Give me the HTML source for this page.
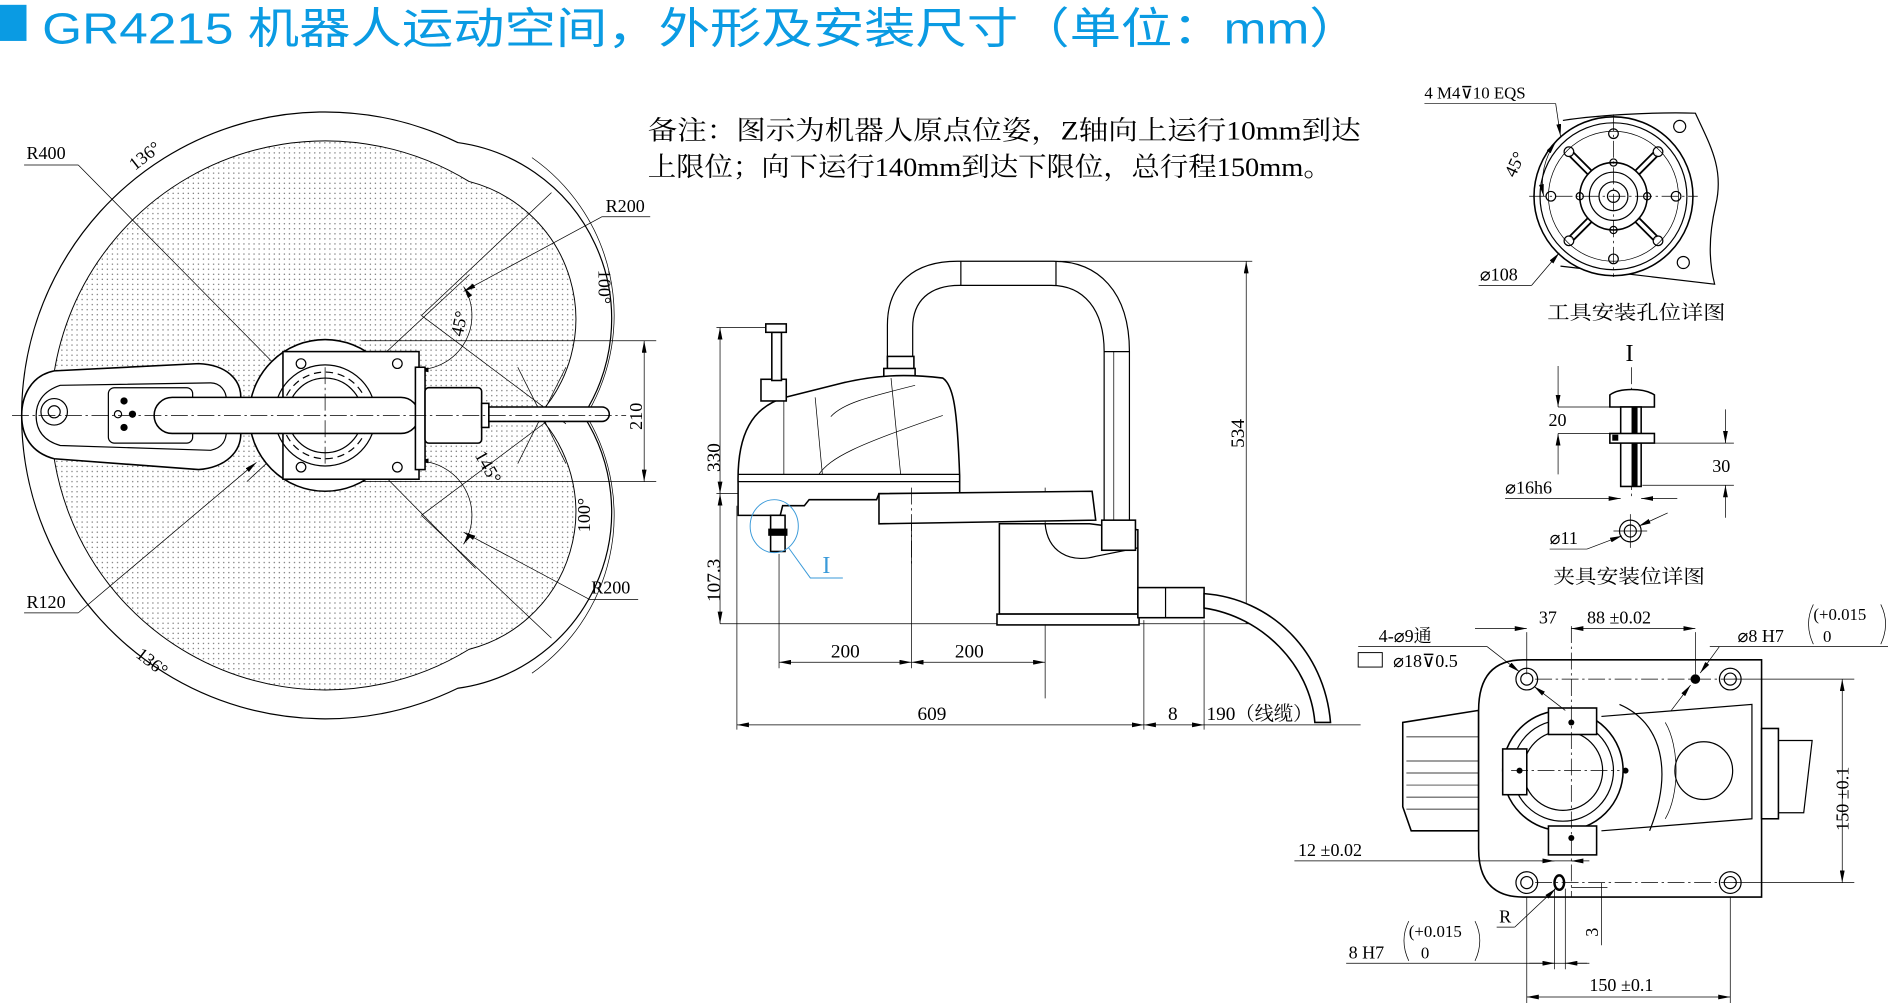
<!DOCTYPE html>
<html><head><meta charset="utf-8"><style>
html,body{margin:0;padding:0;background:#fff;}
svg{display:block;}
text{font-family:"Liberation Serif","Noto Serif CJK SC",serif;fill:#000;}
.t{font-family:"Liberation Sans","Noto Sans CJK SC",sans-serif;fill:#0a9be3;}
.s{stroke:#000;fill:none;stroke-width:1;}
.th{stroke:#000;fill:none;stroke-width:0.6;}
.bk{stroke:#000;fill:#fff;stroke-width:1.3;}
.cl{stroke:#000;fill:none;stroke-width:0.6;stroke-dasharray:14 3 2 3;}
</style></head><body>
<svg width="1888" height="1003" viewBox="0 0 1568 833" xmlns="http://www.w3.org/2000/svg">
<defs>
<marker id="a" viewBox="0 0 10 4" refX="10" refY="2" markerWidth="10" markerHeight="4" markerUnits="userSpaceOnUse" orient="auto-start-reverse"><path d="M0,0 L10,2 L0,4 z" fill="#000"/></marker>
<pattern id="dots" width="4.2" height="4.2" patternUnits="userSpaceOnUse"><circle cx="1" cy="1" r="0.6" fill="#777"/></pattern>
</defs>
<rect width="1568" height="833" fill="#fff"/>
<!-- Title -->
<rect x="0" y="4" width="22" height="30" fill="#0a9be3"/>
<text class="t" x="35" y="36" font-size="36" textLength="1095" lengthAdjust="spacingAndGlyphs">GR4215 机器人运动空间，外形及安装尺寸（单位：mm）</text>
<!-- note -->
<text x="538" y="116" font-size="22" textLength="592" lengthAdjust="spacingAndGlyphs">备注：图示为机器人原点位姿，Z轴向上运行10mm到达</text>
<text x="538" y="146" font-size="22" textLength="568" lengthAdjust="spacingAndGlyphs">上限位；向下运行140mm到达下限位，总行程150mm。</text>

<!-- ===== LEFT: workspace ===== -->
<path d="M380.2,118.4 A252 252 0 1 0 380.2,571.6 A148 148 0 0 0 484.5,345 A148 148 0 0 0 380.2,118.4 Z" class="s" fill="#fff"/>
<path d="M389.5,150.7 A228 228 0 1 0 389.5,539.3 A118 118 0 0 0 447,345 A118 118 0 0 0 389.5,150.7 Z" fill="url(#dots)" stroke="#000" stroke-width="0.8"/>
<!-- outer dimension arcs 100° -->
<path d="M441.8,130.9 A160 160 0 0 1 488.6,342" class="th"/>
<path d="M488.6,348 A160 160 0 0 1 441.8,559.1" class="th"/>
<!-- construction lines -->
<line x1="20" y1="137" x2="65" y2="137" class="th"/>
<line x1="65" y1="137" x2="395" y2="472" class="th"/>
<line x1="20" y1="509" x2="65" y2="509" class="th"/>
<line x1="65" y1="509" x2="213" y2="384" class="th" marker-end="url(#a)"/>
<line x1="205" y1="400" x2="390" y2="228" class="th"/>
<line x1="350" y1="262" x2="458" y2="160" class="th"/>
<line x1="350" y1="262" x2="470" y2="352" class="th"/>
<line x1="350" y1="428" x2="458" y2="530" class="th"/>
<line x1="350" y1="428" x2="470" y2="338" class="th"/>
<line x1="500" y1="180" x2="540" y2="180" class="th"/>
<line x1="500" y1="180" x2="385" y2="242" class="th" marker-end="url(#a)"/>
<line x1="490" y1="498" x2="530" y2="498" class="th"/>
<line x1="490" y1="498" x2="385" y2="442" class="th" marker-end="url(#a)"/>
<path d="M385,238 A45 45 0 0 1 346,307" class="th" marker-start="url(#a)" marker-end="url(#a)"/>
<path d="M346,383 A45 45 0 0 1 385,452" class="th" marker-start="url(#a)" marker-end="url(#a)"/>
<line x1="430" y1="305" x2="470" y2="385" class="th"/>
<line x1="470" y1="305" x2="430" y2="385" class="th"/>
<!-- 210 dim -->
<line x1="300" y1="283" x2="545" y2="283" class="th"/>
<line x1="300" y1="400" x2="545" y2="400" class="th"/>
<line x1="535" y1="283" x2="535" y2="400" class="th" marker-start="url(#a)" marker-end="url(#a)"/>
<!-- arm top view -->
<circle cx="270" cy="345" r="63" class="bk"/>
<rect x="235" y="292" width="113" height="106" class="bk"/>
<circle cx="250" cy="302" r="4" class="s"/><circle cx="330" cy="302" r="4" class="s"/>
<circle cx="250" cy="388" r="4" class="s"/><circle cx="330" cy="388" r="4" class="s"/>
<circle cx="270" cy="345" r="42" class="s"/>
<circle cx="270" cy="345" r="36" class="s" stroke-dasharray="6 4" stroke-width="2"/>
<circle cx="270" cy="345" r="31" class="s"/>
<path d="M45,308 C25,312 18,330 18,345 C18,362 26,376 45,381 L165,390 C188,388 200,375 200,360 L200,330 C200,315 188,303 165,302 Z" class="bk"/>
<path d="M50,320 C35,325 30,335 30,345 C30,357 36,366 50,370 L175,374 C185,372 188,365 188,358 L188,332 C188,325 183,318 175,318 Z" class="s"/>
<rect x="90" y="322" width="70" height="46" rx="5" class="s"/>
<circle cx="103" cy="333" r="3" fill="#000"/><circle cx="103" cy="355" r="3" fill="#000"/><circle cx="110" cy="344" r="3" fill="#000"/><circle cx="98" cy="344" r="3" class="s"/>
<circle cx="45" cy="342" r="11" class="s" stroke-width="2"/><circle cx="45" cy="342" r="5" class="s"/>
<rect x="128" y="330" width="220" height="30" rx="15" class="bk"/>
<rect x="345" y="305" width="8" height="85" class="bk"/>
<rect x="353" y="322" width="47" height="46" rx="3" class="bk"/>
<rect x="400" y="335" width="6" height="20" class="bk"/>
<path d="M406,338 L500,338 A6 6 0 0 1 500,350 L406,350 Z" class="bk"/>
<line x1="10" y1="345" x2="520" y2="345" class="cl"/>
<line x1="270" y1="305" x2="270" y2="385" class="cl"/>
<!-- labels left -->
<text x="22" y="132" font-size="15">R400</text>
<text x="22" y="505" font-size="15">R120</text>
<text x="503" y="176" font-size="15">R200</text>
<text x="491" y="493" font-size="15">R200</text>
<text font-size="15" transform="translate(112,142) rotate(-38)">136°</text>
<text font-size="15" transform="translate(112,545) rotate(38)">136°</text>
<text font-size="15" transform="translate(497,224) rotate(90)">100°</text>
<text font-size="15" transform="translate(490,442) rotate(-90)">100°</text>
<text font-size="15" transform="translate(384,280) rotate(-78)">45°</text>
<text font-size="15" transform="translate(394,378) rotate(60)">145°</text>
<text font-size="15" transform="translate(533,357) rotate(-90)">210</text>

<!-- ===== SIDE VIEW ===== -->
<!-- dims -->
<line x1="595" y1="272" x2="650" y2="272" class="th"/>
<line x1="595" y1="410" x2="645" y2="410" class="th"/>
<line x1="598" y1="272" x2="598" y2="410" class="th" marker-start="url(#a)" marker-end="url(#a)"/>
<line x1="598" y1="410" x2="598" y2="518" class="th" marker-start="url(#a)" marker-end="url(#a)"/>
<line x1="598" y1="518" x2="1040" y2="518" class="th"/>
<line x1="880" y1="217" x2="1040" y2="217" class="th"/>
<line x1="1035" y1="217" x2="1035" y2="518" class="th" marker-start="url(#a)" marker-end="url(#a)"/>
<text font-size="16" transform="translate(598,392) rotate(-90)">330</text>
<text font-size="16" transform="translate(598,500) rotate(-90)">107.3</text>
<text font-size="16" transform="translate(1033,372) rotate(-90)">534</text>
<line x1="612" y1="420" x2="612" y2="606" class="th"/>
<line x1="647" y1="460" x2="647" y2="555" class="th"/>
<line x1="757" y1="410" x2="757" y2="555" class="th"/>
<line x1="868" y1="405" x2="868" y2="580" class="th"/>
<line x1="950" y1="515" x2="950" y2="606" class="th"/>
<line x1="1000" y1="515" x2="1000" y2="606" class="th"/>
<line x1="647" y1="550" x2="757" y2="550" class="th" marker-start="url(#a)" marker-end="url(#a)"/>
<line x1="757" y1="550" x2="868" y2="550" class="th" marker-start="url(#a)" marker-end="url(#a)"/>
<line x1="612" y1="602" x2="950" y2="602" class="th" marker-start="url(#a)" marker-end="url(#a)"/>
<line x1="950" y1="602" x2="1000" y2="602" class="th" marker-start="url(#a)" marker-end="url(#a)"/>
<line x1="1000" y1="602" x2="1130" y2="602" class="th"/>
<text x="690" y="546" font-size="16">200</text>
<text x="793" y="546" font-size="16">200</text>
<text x="762" y="598" font-size="16">609</text>
<text x="970" y="598" font-size="16">8</text>
<text x="1002" y="598" font-size="16">190（线缆）</text>
<!-- cable loop -->
<path d="M737,300 L737,270 C737,235 760,217 795,217 L875,217 C912,217 938,242 938,292 L938,435" class="s" stroke-width="1.3"/>
<path d="M758,300 L758,272 C758,250 772,237 797,237 L873,237 C900,237 917,257 917,292 L917,435" class="s" stroke-width="1.3"/>
<line x1="798" y1="217" x2="798" y2="237" class="s"/><line x1="877" y1="217" x2="877" y2="237" class="s"/>
<line x1="917" y1="292" x2="938" y2="292" class="s"/><line x1="925" y1="292" x2="925" y2="432" class="th"/>
<rect x="737" y="296" width="22" height="14" class="bk"/>
<rect x="734" y="306" width="26" height="16" class="bk"/>
<!-- upper arm -->
<path d="M613,402 C612,360 625,338 652,330 L700,318 C725,312 750,310 783,314 C792,320 795,340 797,395 L797,410 L730,410 L728,415 L672,415 L668,420 L650,420 L648,428 L613,428 Z" class="bk"/>
<line x1="613" y1="394" x2="797" y2="394" class="s"/><line x1="613" y1="400" x2="797" y2="400" class="s"/>
<path d="M651,330 L651,394 M677,330 L683,394 M740,314 L748,394 M690,346 C700,335 720,330 760,320" class="th"/>
<path d="M680,394 C690,380 710,370 783,345" class="th"/>
<rect x="632" y="315" width="21" height="18" class="bk"/>
<rect x="641" y="276" width="8" height="40" class="bk"/>
<rect x="636" y="269" width="17" height="7" class="bk"/>
<rect x="640" y="428" width="12" height="30" class="bk"/>
<rect x="638" y="439" width="16" height="6" fill="#000"/>
<!-- lower arm & column -->
<path d="M730,410 L907,408 L910,432 L730,435 Z" class="bk"/>
<path d="M830,435 L905,435 L945,440 L945,510 L830,510 Z" class="bk"/>
<path d="M868,435 C870,458 888,468 910,462 L945,455" class="s"/>
<rect x="915" y="432" width="28" height="25" class="bk"/>
<rect x="828" y="510" width="118" height="9" class="bk"/>
<rect x="945" y="488" width="55" height="25" class="bk"/>
<line x1="968" y1="488" x2="968" y2="513" class="s"/>
<path d="M1000,493 C1055,497 1100,540 1105,600 L1092,600 C1088,552 1048,512 1000,505 Z" class="bk"/>
<line x1="757" y1="405" x2="757" y2="470" class="cl"/>
<!-- detail I -->
<ellipse cx="643" cy="437" rx="20" ry="22" fill="none" stroke="#3a9ad9" stroke-width="0.8"/>
<path d="M655,455 L673,480 L700,480" fill="none" stroke="#3a9ad9" stroke-width="0.8"/>
<text x="683" y="476" font-size="20" fill="#3a9ad9" style="fill:#3a9ad9">I</text>

<!-- ===== TOOL FLANGE DETAIL ===== -->
<path d="M1298,100 C1330,95 1380,93 1408,94 C1420,120 1432,140 1425,170 C1418,200 1420,220 1424,236 L1296,221" class="s"/>
<circle cx="1340" cy="163" r="66" class="bk"/>
<circle cx="1340" cy="163" r="61" class="s"/>
<circle cx="1340" cy="163" r="54" class="th"/>
<path d="M1305,128 L1375,198 M1375,128 L1305,198" stroke="#000" stroke-width="6"/>
<path d="M1305,128 L1375,198 M1375,128 L1305,198" stroke="#fff" stroke-width="3"/>
<circle cx="1340" cy="163" r="28" class="bk"/>
<circle cx="1340" cy="163" r="20" class="s"/>
<circle cx="1340" cy="163" r="12" class="s"/>
<circle cx="1340" cy="163" r="5" class="s"/>
<g class="s">
<circle cx="1340" cy="111" r="4"/><circle cx="1340" cy="215" r="4"/><circle cx="1288" cy="163" r="4"/><circle cx="1392" cy="163" r="4"/>
<circle cx="1303" cy="126" r="4"/><circle cx="1377" cy="126" r="4"/><circle cx="1303" cy="200" r="4"/><circle cx="1377" cy="200" r="4"/>
<circle cx="1312" cy="163" r="3"/><circle cx="1368" cy="163" r="3"/><circle cx="1340" cy="135" r="3"/><circle cx="1340" cy="191" r="3"/>
</g>
<circle cx="1398" cy="218" r="5" class="s"/><circle cx="1395" cy="105" r="5" class="s"/>
<line x1="1270" y1="163" x2="1410" y2="163" class="cl"/><line x1="1340" y1="95" x2="1340" y2="230" class="cl"/>
<line x1="1183" y1="86" x2="1292" y2="86" class="th"/>
<line x1="1292" y1="86" x2="1296" y2="113" class="th" marker-end="url(#a)"/>
<text x="1183" y="82" font-size="14">4 M4⊽10 EQS</text>
<path d="M1292,118 A58 58 0 0 0 1282,163" class="th" marker-start="url(#a)" marker-end="url(#a)"/>
<text font-size="15" transform="translate(1258,148) rotate(-65)">45°</text>
<line x1="1228" y1="237" x2="1272" y2="237" class="th"/>
<line x1="1272" y1="237" x2="1295" y2="210" class="th" marker-end="url(#a)"/>
<text x="1229" y="233" font-size="15">⌀108</text>
<text x="1285" y="265" font-size="16" textLength="148" lengthAdjust="spacingAndGlyphs">工具安装孔位详图</text>

<!-- ===== GRIPPER DETAIL ===== -->
<text x="1350" y="300" font-size="20">I</text>
<line x1="1355" y1="305" x2="1355" y2="415" class="cl"/>
<path d="M1337,338 L1337,328 C1345,322 1365,322 1374,328 L1374,338 Z" class="bk"/>
<rect x="1346" y="338" width="17" height="66" class="bk"/>
<rect x="1355" y="338" width="5" height="66" fill="#000"/>
<rect x="1337" y="360" width="37" height="8" class="bk"/>
<rect x="1339" y="361" width="5" height="5" fill="#000"/>
<line x1="1294" y1="338" x2="1345" y2="338" class="th"/>
<line x1="1294" y1="360" x2="1345" y2="360" class="th"/>
<line x1="1294" y1="304" x2="1294" y2="338" class="th" marker-end="url(#a)"/>
<line x1="1294" y1="394" x2="1294" y2="360" class="th" marker-end="url(#a)"/>
<text x="1286" y="354" font-size="15">20</text>
<line x1="1374" y1="368" x2="1440" y2="368" class="th"/>
<line x1="1364" y1="403" x2="1440" y2="403" class="th"/>
<line x1="1433" y1="340" x2="1433" y2="368" class="th" marker-end="url(#a)"/>
<line x1="1433" y1="430" x2="1433" y2="403" class="th" marker-end="url(#a)"/>
<text x="1422" y="392" font-size="15">30</text>
<line x1="1250" y1="414" x2="1346" y2="414" class="th" marker-end="url(#a)"/>
<line x1="1393" y1="414" x2="1363" y2="414" class="th" marker-end="url(#a)"/>
<text x="1250" y="410" font-size="15">⌀16h6</text>
<circle cx="1354" cy="441" r="9" class="s" stroke-width="1.5"/><circle cx="1354" cy="441" r="5" class="s"/>
<line x1="1340" y1="441" x2="1368" y2="441" class="th"/><line x1="1354" y1="427" x2="1354" y2="455" class="th"/>
<line x1="1287" y1="456" x2="1318" y2="456" class="th"/>
<line x1="1318" y1="456" x2="1347" y2="445" class="th" marker-end="url(#a)"/>
<line x1="1385" y1="426" x2="1361" y2="437" class="th" marker-end="url(#a)"/>
<text x="1287" y="452" font-size="15">⌀11</text>
<text x="1290" y="484" font-size="16" textLength="126" lengthAdjust="spacingAndGlyphs">夹具安装位详图</text>

<!-- ===== BASE BOTTOM VIEW ===== -->
<path d="M1165,600 L1228,590 L1228,690 L1172,690 L1165,670 Z" class="bk"/>
<path d="M1168,612 L1228,612 M1168,632 L1228,632 M1168,642 L1228,642 M1168,652 L1228,652 M1168,662 L1228,662 M1168,672 L1228,672" class="th"/>
<path d="M1265,548 L1463,548 L1463,745 L1265,745 Q1228,745 1228,705 L1228,590 Q1228,548 1265,548 Z" class="bk"/>
<path d="M1330,595 L1455,585 L1455,680 L1330,690" class="s"/>
<path d="M1345,585 C1380,600 1390,640 1370,690" class="s"/>
<path d="M1383,600 C1395,620 1395,660 1383,680" class="th"/>
<circle cx="1415" cy="640" r="24" class="s" stroke-width="1.4"/>
<circle cx="1298" cy="640" r="50" class="bk"/>
<circle cx="1298" cy="640" r="42" class="s"/>
<circle cx="1298" cy="640" r="33" class="s" stroke-width="1.6"/>
<rect x="1286" y="588" width="40" height="22" class="bk"/>
<rect x="1286" y="686" width="40" height="24" class="bk"/>
<rect x="1248" y="622" width="20" height="38" class="bk"/>
<circle cx="1305" cy="600" r="2.5" fill="#000"/><circle cx="1305" cy="696" r="2.5" fill="#000"/>
<circle cx="1262" cy="640" r="2.5" fill="#000"/><circle cx="1350" cy="640" r="2.5" fill="#000"/>
<line x1="1255" y1="640" x2="1345" y2="640" class="cl"/>
<line x1="1305" y1="520" x2="1305" y2="745" class="cl"/>
<rect x="1463" y="605" width="14" height="75" class="bk"/>
<path d="M1477,615 L1505,615 L1498,675 L1477,675" class="s"/>
<g class="s">
<circle cx="1268" cy="564" r="9"/><circle cx="1268" cy="564" r="5"/>
<circle cx="1437" cy="564" r="9"/><circle cx="1437" cy="564" r="5"/>
<circle cx="1268" cy="733" r="9"/><circle cx="1268" cy="733" r="5"/>
<circle cx="1437" cy="733" r="9"/><circle cx="1437" cy="733" r="5"/>
<ellipse cx="1295" cy="733" rx="4" ry="6" stroke-width="2"/>
</g>
<circle cx="1408" cy="564" r="4" fill="#000"/>
<line x1="1275" y1="564" x2="1445" y2="564" class="cl"/>
<line x1="1275" y1="733" x2="1445" y2="733" class="cl"/>
<!-- dims -->
<line x1="1268" y1="525" x2="1268" y2="560" class="th"/>
<line x1="1408" y1="525" x2="1408" y2="560" class="th"/>
<line x1="1225" y1="522" x2="1268" y2="522" class="th" marker-end="url(#a)"/>
<line x1="1305" y1="522" x2="1408" y2="522" class="th" marker-start="url(#a)" marker-end="url(#a)"/>
<text x="1278" y="518" font-size="15">37</text>
<text x="1318" y="518" font-size="15">88 ±0.02</text>
<line x1="1128" y1="537" x2="1235" y2="537" class="th"/>
<line x1="1235" y1="537" x2="1262" y2="558" class="th" marker-end="url(#a)"/>
<line x1="1300" y1="590" x2="1274" y2="570" class="th" marker-end="url(#a)"/>
<text x="1145" y="533" font-size="15">4-⌀9通</text>
<rect x="1128" y="542" width="20" height="12" fill="none" stroke="#000" stroke-width="0.8"/>
<text x="1157" y="554" font-size="15">⌀18⊽0.5</text>
<line x1="1420" y1="537" x2="1568" y2="537" class="th"/>
<line x1="1428" y1="537" x2="1412" y2="559" class="th" marker-end="url(#a)"/>
<line x1="1388" y1="590" x2="1404" y2="569" class="th" marker-end="url(#a)"/>
<text x="1443" y="533" font-size="15">⌀8 H7</text>
<text x="1506" y="515" font-size="14">(+0.015</text>
<text x="1514" y="533" font-size="14">0</text>
<path d="M1506,502 Q1498,518 1506,535" class="th"/><path d="M1562,502 Q1570,518 1562,535" class="th"/>
<line x1="1440" y1="564" x2="1540" y2="564" class="th"/>
<line x1="1440" y1="733" x2="1540" y2="733" class="th"/>
<line x1="1530" y1="564" x2="1530" y2="733" class="th" marker-start="url(#a)" marker-end="url(#a)"/>
<text font-size="15" transform="translate(1535,690) rotate(-90)">150 ±0.1</text>
<line x1="1075" y1="715" x2="1310" y2="715" class="th"/>
<line x1="1280" y1="715" x2="1291" y2="715" class="th" marker-end="url(#a)"/>
<line x1="1320" y1="715" x2="1305" y2="715" class="th" marker-end="url(#a)"/>
<text x="1078" y="711" font-size="15">12 ±0.02</text>
<line x1="1243" y1="770" x2="1258" y2="770" class="th"/>
<line x1="1258" y1="770" x2="1292" y2="738" class="th" marker-end="url(#a)"/>
<text x="1245" y="766" font-size="15">R</text>
<line x1="1330" y1="733" x2="1330" y2="785" class="th"/>
<line x1="1305" y1="737" x2="1335" y2="737" class="th"/>
<text font-size="15" transform="translate(1327,778) rotate(-90)">3</text>
<line x1="1291" y1="738" x2="1291" y2="805" class="th"/><line x1="1300" y1="738" x2="1300" y2="805" class="th"/>
<line x1="1118" y1="800" x2="1320" y2="800" class="th"/>
<line x1="1270" y1="800" x2="1291" y2="800" class="th" marker-end="url(#a)"/>
<line x1="1318" y1="800" x2="1300" y2="800" class="th" marker-end="url(#a)"/>
<text x="1120" y="796" font-size="15">8 H7</text>
<text x="1170" y="778" font-size="14">(+0.015</text>
<text x="1180" y="796" font-size="14">0</text>
<path d="M1170,765 Q1162,781 1170,798" class="th"/><path d="M1225,765 Q1233,781 1225,798" class="th"/>
<line x1="1268" y1="745" x2="1268" y2="833" class="th"/>
<line x1="1437" y1="745" x2="1437" y2="833" class="th"/>
<line x1="1268" y1="828" x2="1437" y2="828" class="th" marker-start="url(#a)" marker-end="url(#a)"/>
<text x="1320" y="823" font-size="15">150 ±0.1</text>
</svg>
</body></html>
